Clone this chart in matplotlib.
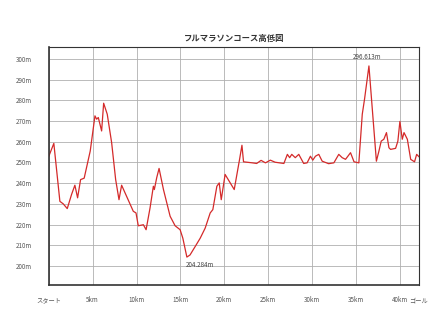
"""Full marathon course elevation profile."""

import matplotlib
matplotlib.use("Agg")
import matplotlib.pyplot as plt

plt.rcParams["font.family"] = ["Noto Sans CJK JP", "DejaVu Sans"]

TITLE = "フルマラソンコース高低図"

dist_km = [
    0.0, 0.57, 1.26, 1.64, 2.1, 2.59, 2.97, 3.28, 3.62, 4.03, 4.42, 4.72,
    5.26, 5.45, 5.64, 6.02, 6.25, 6.66, 7.16, 7.62, 8.0, 8.3, 8.69,
    9.63, 9.94, 10.2, 10.78, 11.09, 11.54, 11.92, 12.03, 12.3, 12.57,
    13.07, 13.83, 14.4, 14.97, 15.28, 15.74, 16.1, 16.69, 17.26,
    17.83, 18.4, 18.7, 19.16, 19.43, 19.66, 20.1, 21.14, 21.75, 22.02,
    22.2, 23.2, 23.7, 24.2, 24.7, 25.26, 25.8, 26.8, 27.2, 27.46, 27.7,
    28.1, 28.5, 29.06, 29.45, 29.83, 30.1, 30.4, 30.78, 31.17, 31.9,
    32.5, 33.06, 33.45, 33.83, 34.1, 34.4, 34.8, 35.35, 35.74, 36.0,
    36.5, 36.9, 37.35, 37.64, 37.9, 38.2, 38.5, 38.78, 38.97, 39.54,
    39.8, 40.03, 40.3, 40.5, 40.88, 41.26, 41.7, 41.94, 42.195,
]
elev_m = [
    253.0, 259.2, 231.2, 230.0, 227.7, 234.5, 239.0, 232.9, 241.7, 242.4, 249.8, 255.5,
    272.5, 270.9, 271.7, 265.2, 278.6, 273.3, 259.6, 241.7, 232.0, 239.0, 235.3,
    226.4, 225.6, 219.4, 219.9, 217.5, 228.0, 238.5, 236.9, 242.6, 247.1,
    236.9, 224.0, 219.4, 217.5, 213.4, 204.284, 205.3, 209.4, 213.4,
    218.3, 225.6, 227.2, 238.5, 240.1, 232.0, 244.2, 236.9, 251.5, 258.3,
    250.3, 249.8, 249.5, 251.0, 249.8, 251.1, 250.1, 249.5, 253.9, 252.3, 253.9,
    252.3, 253.9, 249.5, 249.8, 253.0, 251.1, 253.0, 253.9, 250.6, 249.4,
    249.8, 253.9, 252.3, 251.5, 253.0, 254.7, 250.3, 249.8, 273.3, 280.6,
    296.613, 274.9, 250.6, 255.5, 260.3, 261.2, 264.4, 257.1, 256.3, 256.8,
    260.3, 269.8, 261.2, 264.4, 261.2, 251.5, 250.3, 253.9, 252.8,
]

x_ticks = [0, 5, 10, 15, 20, 25, 30, 35, 40, 42.195]
x_labels = ["スタート", "5km", "10km", "15km", "20km", "25km",
            "30km", "35km", "40km", "ゴール"]
y_ticks = [200, 210, 220, 230, 240, 250, 260, 270, 280, 290, 300]
y_labels = [f"{v}m" for v in y_ticks]

low_km, low_m = 15.74, 204.284
high_km, high_m = 36.5, 296.613


def main() -> None:
    fig = plt.figure(figsize=(4.48, 3.17), dpi=100)
    ax = fig.add_axes([0.109, 0.101, 0.826, 0.751])

    ax.plot(dist_km, elev_m, color="#d42a2a", linewidth=0.9)

    ax.set_xlim(0, 42.195)
    ax.set_ylim(190.8, 305.8)
    ax.set_xticks(x_ticks)
    ax.set_xticklabels(x_labels, fontsize=4.5, color="#555555")
    ax.set_yticks(y_ticks)
    ax.set_yticklabels(y_labels, fontsize=4.5, color="#555555")
    ax.tick_params(axis="both", length=0)
    ax.tick_params(axis="x", pad=8)
    ax.tick_params(axis="y", pad=12)

    ax.grid(True, color="#b0b0b0", linewidth=0.6)
    ax.set_axisbelow(True)
    for side in ["left", "bottom"]:
        ax.spines[side].set_linewidth(1.2)
        ax.spines[side].set_color("#333333")
    for side in ["top", "right"]:
        ax.spines[side].set_linewidth(0.8)
        ax.spines[side].set_color("#333333")

    ax.annotate(f"{low_m:.3f}m", (low_km, low_m), xytext=(-1, -4),
                textcoords="offset pixels", ha="left", va="top",
                fontsize=4.5, color="#444444")
    ax.annotate(f"{high_m:.3f}m", (high_km, high_m), xytext=(-2, 5),
                textcoords="offset pixels", ha="center", va="bottom",
                fontsize=4.5, color="#444444")

    fig.text(0.523, 0.88, TITLE, ha="center", va="center",
             fontsize=6, fontweight="bold", color="#333333")

    fig.savefig("out.png", dpi=100)
    plt.close(fig)


if __name__ == "__main__":
    main()
